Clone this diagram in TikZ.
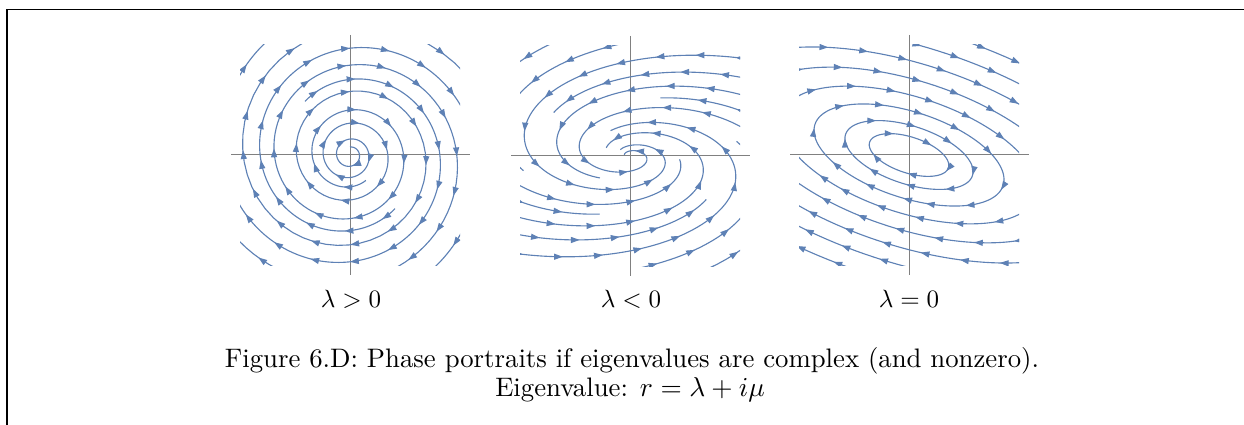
\documentclass[tikz,border=0pt]{standalone}
\usetikzlibrary{arrows.meta,decorations.markings}
\definecolor{streamc}{RGB}{94,129,181}
\definecolor{axisc}{RGB}{128,128,128}
% unstable spiral (clockwise, expanding): #1 phase, #2 start angle-parameter
\newcommand\PPup[2]{\draw[stream] plot[domain=#2:2643, samples=220, variable=\t] ({exp(\t/520.87)*cos(#1-\t)},{exp(\t/520.87)*sin(#1-\t)});}
% stable spiral (counter-clockwise, contracting): #1 phase, #2 end parameter
\newcommand\PPdown[2]{\draw[stream] plot[domain=0:#2, samples=200, variable=\t] ({240*exp(-\t/163.7)*cos(\t+#1)},{132*exp(-\t/163.7)*sin(\t+#1)});}
% centre (closed ellipses, clockwise): #1 minor semi-axis, #2 start, #3 end
\newcommand\PPell[3]{\draw[stream, rotate=-18] plot[domain=#2:#3, samples=150, variable=\t] ({2.3*#1*cos(\t)},{-#1*sin(\t)});}
\begin{document}
\begin{tikzpicture}[x=0.4pt,y=0.4pt,
  stream/.style={draw=streamc, color=streamc, line width=0.45pt, postaction={decorate},
    decoration={markings, mark=between positions 0.02 and 1 step 16pt with {\arrow{Triangle[length=3.5pt,width=2.4pt]}}}},
  axisline/.style={draw=axisc, line width=0.4pt},
  frameline/.style={draw=black, line width=0.5pt},
  lab/.style={anchor=base, inner sep=0pt},
  capt/.style={anchor=base, inner sep=0pt, font=\fontsize{10.7}{13.2}\selectfont}]
\useasboundingbox (0,0) rectangle (1244,-425);
\draw[frameline] (7,-425) -- (7,-9.5) -- (1244,-9.5);

% panel 1: lambda > 0
\begin{scope}[shift={(350,-155)}]
  \draw[axisline] (-119,0) -- (120,0);
  \draw[axisline] (0,120) -- (0,-120);
  \begin{scope}
    \clip (-110,-110) rectangle (110,110);
    \PPup{93}{1083}
    \PPup{273}{1771}
    \PPup{183}{2213}
    \PPup{3}{2213}
  \end{scope}
\end{scope}

% panel 2: lambda < 0
\begin{scope}[shift={(630,-156)}]
  \draw[axisline] (-119,0) -- (120,0);
  \draw[axisline] (0,120) -- (0,-120);
  \begin{scope}
    \clip (-110,-110) rectangle (110,110);
    \PPdown{276}{604}
    \PPdown{306}{128}
    \PPdown{336}{257}
    \PPdown{6}{128}
    \PPdown{36}{454}
    \PPdown{66}{128}
    \PPdown{96}{257}
    \PPdown{126}{128}
    \PPdown{156}{352}
    \PPdown{186}{128}
    \PPdown{216}{257}
    \PPdown{246}{128}
  \end{scope}
\end{scope}

% panel 3: lambda = 0
\begin{scope}[shift={(909,-155)}]
  \draw[axisline] (-119,0) -- (120,0);
  \draw[axisline] (0,120) -- (0,-120);
  \begin{scope}
    \clip (-110,-110) rectangle (110,110);
    \PPell{18}{0}{360}
    \PPell{29}{40}{400}
    \PPell{43}{80}{440}
    \PPell{58}{120}{480}
    \PPell{74}{160}{520}
    \PPell{91}{200}{560}
    \PPell{108}{240}{600}
    \PPell{126}{280}{640}
  \end{scope}
\end{scope}

\node[lab] (l1) at (351,-308) {$\lambda>0$};
\node[lab] (l2) at (631,-308) {$\lambda<0$};
\node[lab] (l3) at (909,-308) {$\lambda=0$};
\node[capt] (cap1) at (632,-367) {Figure 6.D: Phase portraits if eigenvalues are complex (and nonzero).};
\node[capt] (cap2) at (630,-396) {Eigenvalue: $r=\lambda+i\mu$};
\end{tikzpicture}
\end{document}
